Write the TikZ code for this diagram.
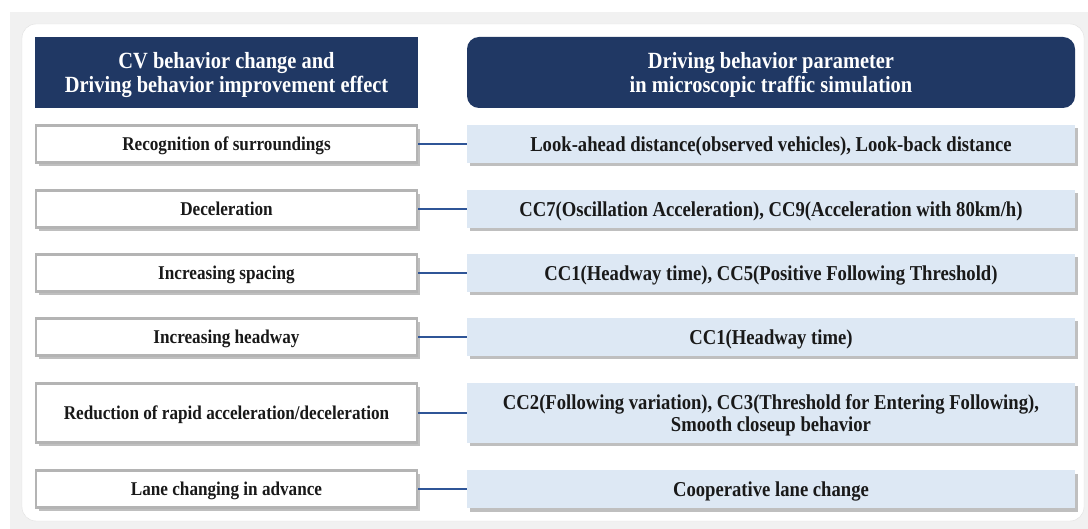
\documentclass[tikz,border=0pt]{standalone}
\usepackage{fontspec}
\setmainfont[FakeStretch=0.88]{Liberation Serif}
\usetikzlibrary{shadows}

\definecolor{navy}{HTML}{203864}
\definecolor{linkblue}{HTML}{2F5597}
\definecolor{paleblue}{HTML}{DDE8F4}
\definecolor{edgegray}{HTML}{B4B4B4}
\definecolor{backgray}{HTML}{F1F1F1}

\tikzset{
  head/.style={fill=navy, text=white, minimum height=71pt, inner sep=0pt, align=center,
    text depth=0pt, font=\fontsize{23.2}{24.5}\selectfont\bfseries},
  effect/.style={draw=edgegray, line width=2.2pt, fill=white, minimum width=381pt, inner sep=0pt,
    align=center, text=black!90, text depth=0pt, font=\fontsize{19.5}{22}\selectfont\bfseries,
    drop shadow={shadow xshift=2.5pt, shadow yshift=-3.5pt, opacity=0.55, fill=black!45}},
  param/.style={fill=paleblue, minimum width=608pt, inner sep=0pt, align=center,
    text=black!90, text depth=0pt, font=\fontsize{21.2}{22.5}\selectfont\bfseries,
    drop shadow={shadow xshift=2.5pt, shadow yshift=-3.5pt, opacity=0.55, fill=black!45}},
  link/.style={draw=linkblue, line width=2.4pt}
}

\begin{document}
\begin{tikzpicture}[x=1pt, y=-1pt]
\useasboundingbox (0,0) rectangle (1088,529);

%background panels
\fill[backgray] (10,12) rectangle (1088,529);
\draw[black!12, fill=white, rounded corners=14pt] (22,24) rectangle (1084,521);

%headers
\node[head, minimum width=383pt] (hl) at (226.5,72.5) {CV behavior change and\\Driving behavior improvement effect};
\node[head, minimum width=608pt, rounded corners=12pt] (hr) at (771,72.5) {Driving behavior parameter\\in microscopic traffic simulation};

%behavior changes
\node[effect, minimum height=37pt] (l1) at (226.5,144) {Recognition of surroundings};
\node[effect, minimum height=37pt] (l2) at (226.5,209) {Deceleration};
\node[effect, minimum height=37pt] (l3) at (226.5,273) {Increasing spacing};
\node[effect, minimum height=37pt] (l4) at (226.5,337) {Increasing headway};
\node[effect, minimum height=59pt] (l5) at (226.5,413) {Reduction of rapid acceleration/deceleration};
\node[effect, minimum height=37pt] (l6) at (226.5,489) {Lane changing in advance};

%simulation parameters
\node[param, minimum height=38pt] (r1) at (771,144) {Look-ahead distance(observed vehicles), Look-back distance};
\node[param, minimum height=38pt] (r2) at (771,209) {CC7(Oscillation Acceleration), CC9(Acceleration with 80km/h)};
\node[param, minimum height=38pt] (r3) at (771,273) {CC1(Headway time), CC5(Positive Following Threshold)};
\node[param, minimum height=38pt] (r4) at (771,337) {CC1(Headway time)};
\node[param, minimum height=60pt] (r5) at (771,413) {CC2(Following variation), CC3(Threshold for Entering Following),\\Smooth closeup behavior};
\node[param, minimum height=38pt] (r6) at (771,489) {Cooperative lane change};

%links
\draw[link] (l1.east) -- (r1.west);
\draw[link] (l2.east) -- (r2.west);
\draw[link] (l3.east) -- (r3.west);
\draw[link] (l4.east) -- (r4.west);
\draw[link] (l5.east) -- (r5.west);
\draw[link] (l6.east) -- (r6.west);
\end{tikzpicture}
\end{document}
